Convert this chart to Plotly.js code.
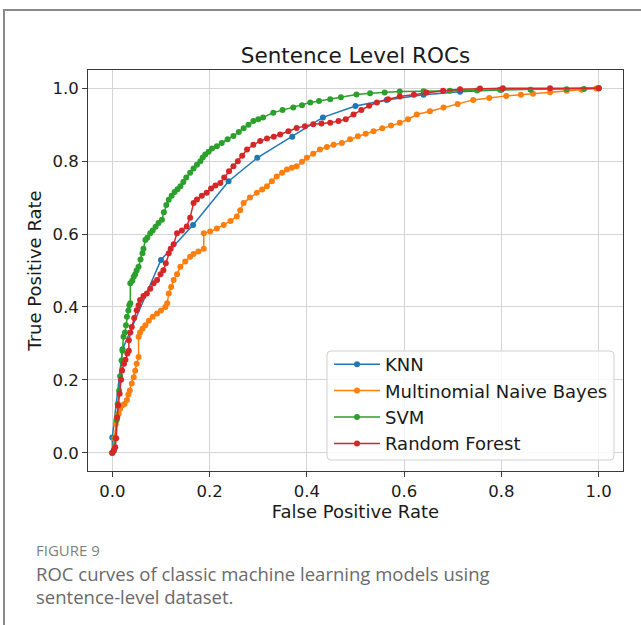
<!DOCTYPE html>
<html>
<head>
<meta charset="utf-8">
<script src="https://cdn.plot.ly/plotly-3.0.1.min.js"></script>
<style>
  html, body { margin: 0; padding: 0; background: #ffffff; }
  #wrap { position: relative; width: 641px; height: 625px; overflow: hidden; }
  #chart { position: absolute; left: 0; top: 0; width: 641px; height: 625px; }
  #card { position: absolute; left: 3px; top: 9px; width: 700px; height: 700px;
          border-top: 2px solid #8a8a8a; border-left: 2px solid #8a8a8a; pointer-events: none; }
</style>
</head>
<body>
<div id="wrap">
  <div id="chart"></div>
  <div id="card"></div>
</div>
<script>
// ROC curve points (false positive rate / true positive rate) per model
const knnFpr = [0.0, 0.0, 0.021, 0.100, 0.166, 0.239, 0.298, 0.370, 0.433, 0.500, 0.564, 0.640, 0.715, 0.800, 1.0];
const knnTpr = [0.0, 0.042, 0.284, 0.529, 0.625, 0.745, 0.809, 0.867, 0.920, 0.951, 0.968, 0.982, 0.990, 0.996, 1.0];

const mnbFpr = [0, 0.004, 0.007, 0.010, 0.013, 0.016, 0.020, 0.025, 0.030, 0.033, 0.036, 0.040, 0.044, 0.047, 0.050, 0.054, 0.054, 0.057, 0.062, 0.068, 0.075, 0.083, 0.092, 0.100, 0.109, 0.113, 0.116, 0.121, 0.126, 0.133, 0.140, 0.150, 0.160, 0.167, 0.177, 0.188, 0.188, 0.201, 0.215, 0.229, 0.243, 0.256, 0.263, 0.270, 0.283, 0.297, 0.308, 0.318, 0.328, 0.338, 0.349, 0.359, 0.369, 0.379, 0.390, 0.400, 0.413, 0.427, 0.441, 0.455, 0.472, 0.489, 0.505, 0.521, 0.537, 0.555, 0.573, 0.591, 0.608, 0.626, 0.653, 0.681, 0.71, 0.742, 0.775, 0.81, 0.84, 0.865, 0.90, 0.934, 0.965, 0.995, 1.0];
const mnbTpr = [0, 0.04, 0.079, 0.1, 0.107, 0.12, 0.13, 0.134, 0.145, 0.16, 0.171, 0.19, 0.207, 0.225, 0.244, 0.263, 0.318, 0.33, 0.34, 0.35, 0.362, 0.373, 0.382, 0.39, 0.40, 0.41, 0.437, 0.455, 0.474, 0.49, 0.51, 0.525, 0.538, 0.545, 0.552, 0.56, 0.602, 0.607, 0.615, 0.625, 0.636, 0.648, 0.665, 0.685, 0.70, 0.713, 0.722, 0.731, 0.745, 0.758, 0.768, 0.777, 0.782, 0.786, 0.798, 0.809, 0.82, 0.832, 0.839, 0.845, 0.85, 0.86, 0.868, 0.875, 0.882, 0.89, 0.898, 0.905, 0.915, 0.928, 0.937, 0.947, 0.957, 0.968, 0.973, 0.979, 0.982, 0.985, 0.989, 0.993, 0.996, 0.999, 1.0];

const svmFpr = [0, 0.003, 0.006, 0.009, 0.011, 0.014, 0.016, 0.019, 0.021, 0.023, 0.026, 0.028, 0.030, 0.033, 0.035, 0.037, 0.037, 0.041, 0.044, 0.047, 0.050, 0.054, 0.058, 0.062, 0.064, 0.068, 0.072, 0.078, 0.083, 0.089, 0.095, 0.102, 0.106, 0.111, 0.116, 0.122, 0.128, 0.134, 0.140, 0.146, 0.152, 0.160, 0.167, 0.174, 0.181, 0.186, 0.191, 0.198, 0.205, 0.215, 0.225, 0.237, 0.249, 0.260, 0.270, 0.280, 0.290, 0.300, 0.31, 0.331, 0.35, 0.372, 0.39, 0.407, 0.425, 0.448, 0.47, 0.502, 0.53, 0.56, 0.591, 0.64, 0.694, 0.75, 0.797, 0.86, 0.934, 0.97, 1.0];
const svmTpr = [0, 0.006, 0.04, 0.09, 0.134, 0.17, 0.21, 0.253, 0.28, 0.318, 0.33, 0.35, 0.373, 0.39, 0.405, 0.41, 0.465, 0.472, 0.483, 0.49, 0.50, 0.51, 0.53, 0.547, 0.56, 0.584, 0.59, 0.602, 0.61, 0.62, 0.63, 0.639, 0.66, 0.68, 0.694, 0.705, 0.715, 0.723, 0.731, 0.743, 0.755, 0.768, 0.78, 0.79, 0.80, 0.81, 0.818, 0.826, 0.835, 0.841, 0.85, 0.86, 0.869, 0.88, 0.89, 0.90, 0.91, 0.915, 0.92, 0.933, 0.94, 0.947, 0.953, 0.961, 0.965, 0.97, 0.975, 0.983, 0.986, 0.988, 0.991, 0.992, 0.993, 0.994, 0.996, 0.996, 0.997, 0.998, 1.0];

const rfFpr = [0, 0.003, 0.006, 0.008, 0.010, 0.012, 0.015, 0.018, 0.020, 0.024, 0.027, 0.031, 0.034, 0.034, 0.037, 0.040, 0.045, 0.050, 0.054, 0.057, 0.064, 0.071, 0.078, 0.085, 0.092, 0.099, 0.105, 0.110, 0.116, 0.120, 0.126, 0.133, 0.143, 0.153, 0.160, 0.167, 0.174, 0.184, 0.194, 0.203, 0.212, 0.222, 0.230, 0.240, 0.249, 0.258, 0.267, 0.277, 0.290, 0.304, 0.318, 0.332, 0.345, 0.362, 0.379, 0.396, 0.413, 0.430, 0.448, 0.465, 0.480, 0.496, 0.512, 0.528, 0.544, 0.567, 0.591, 0.62, 0.646, 0.68, 0.715, 0.756, 0.803, 0.9, 1.0];
const rfTpr = [0, 0.006, 0.015, 0.04, 0.097, 0.13, 0.162, 0.2, 0.226, 0.244, 0.255, 0.272, 0.28, 0.309, 0.33, 0.345, 0.37, 0.391, 0.405, 0.419, 0.43, 0.437, 0.45, 0.465, 0.474, 0.49, 0.501, 0.52, 0.547, 0.56, 0.572, 0.602, 0.61, 0.621, 0.645, 0.685, 0.695, 0.705, 0.713, 0.725, 0.733, 0.740, 0.755, 0.772, 0.786, 0.80, 0.815, 0.832, 0.845, 0.855, 0.862, 0.867, 0.873, 0.882, 0.891, 0.896, 0.901, 0.903, 0.905, 0.91, 0.915, 0.928, 0.94, 0.952, 0.961, 0.97, 0.977, 0.982, 0.988, 0.993, 0.997, 0.999, 1.0, 1.0, 1.0];

const modelNames = ["KNN", "Multinomial Naive Bayes", "SVM", "Random Forest"];
const modelColors = ["#1f77b4", "#ff7f0e", "#2ca02c", "#d62728"];
const tickVals = [0.0, 0.2, 0.4, 0.6, 0.8, 1.0];
const tickText = ["0.0", "0.2", "0.4", "0.6", "0.8", "1.0"];

const series = [[knnFpr, knnTpr], [mnbFpr, mnbTpr], [svmFpr, svmTpr], [rfFpr, rfTpr]];

const traces = series.map(function (s, i) {
  return {
    type: "scatter",
    mode: "lines+markers",
    name: modelNames[i],
    x: s[0],
    y: s[1],
    line: { color: modelColors[i], width: 1.5 },
    marker: { color: modelColors[i], size: 6 },
    legendgroup: "g" + i
  };
});

const baseFont = "DejaVu Sans, sans-serif";
const textColor = "#1a1a1a";
const axisCommon = {
  range: [-0.05, 1.05],
  tickvals: tickVals,
  ticktext: tickText,
  showgrid: true,
  gridcolor: "#d4d4d4",
  gridwidth: 1,
  zeroline: false,
  showline: true,
  mirror: true,
  linecolor: "#3a3a3a",
  linewidth: 1,
  ticks: "outside",
  ticklen: 5,
  tickwidth: 1,
  tickcolor: "#3a3a3a",
  tickfont: { family: baseFont, size: 16.5, color: textColor },
  fixedrange: true
};

// plot area in pixels: left 88, top 70, width 535, height 401
const PL = 88, PT = 70, PW = 535, PH = 401;
const px2x = function (px) { return (px - PL) / PW; };
const py2y = function (py) { return (PT + PH - py) / PH; };

// rounded legend frame
function roundedBox(left, top, right, bottom, r) {
  const x0 = px2x(left), x1 = px2x(right), y0 = py2y(bottom), y1 = py2y(top);
  const rx = r / PW, ry = r / PH;
  return "M" + (x0 + rx) + "," + y1 +
    " L" + (x1 - rx) + "," + y1 + " Q" + x1 + "," + y1 + " " + x1 + "," + (y1 - ry) +
    " L" + x1 + "," + (y0 + ry) + " Q" + x1 + "," + y0 + " " + (x1 - rx) + "," + y0 +
    " L" + (x0 + rx) + "," + y0 + " Q" + x0 + "," + y0 + " " + x0 + "," + (y0 + ry) +
    " L" + x0 + "," + (y1 - ry) + " Q" + x0 + "," + y1 + " " + (x0 + rx) + "," + y1 + " Z";
}

const captionX = px2x(34);

const layout = {
  width: 641,
  height: 625,
  margin: { l: PL, r: 641 - PL - PW, t: PT, b: 625 - PT - PH },
  paper_bgcolor: "#ffffff",
  plot_bgcolor: "#ffffff",
  font: { family: baseFont, color: textColor },
  title: {
    text: "Sentence Level ROCs",
    font: { family: baseFont, size: 21.5, color: textColor },
    xref: "paper", x: 0.5, xanchor: "center",
    yref: "container", y: 1 - 55 / 625, yanchor: "middle"
  },
  xaxis: Object.assign({}, axisCommon, {
    title: { text: "False Positive Rate", font: { family: baseFont, size: 18, color: textColor }, standoff: 2 }
  }),
  yaxis: Object.assign({}, axisCommon, {
    title: { text: "True Positive Rate", font: { family: baseFont, size: 18, color: textColor }, standoff: 6 }
  }),
  showlegend: true,
  legend: {
    x: px2x(613), xanchor: "right",
    y: py2y(462), yanchor: "bottom",
    bgcolor: "rgba(0,0,0,0)",
    borderwidth: 0,
    itemwidth: 46,
    font: { family: baseFont, size: 18, color: textColor },
    traceorder: "grouped",
    tracegroupgap: 0
  },
  shapes: [
    { type: "path", xref: "paper", yref: "paper", layer: "above",
      path: roundedBox(327, 351, 614, 460, 4),
      fillcolor: "rgba(255,255,255,0.8)",
      line: { color: "#d0d0d0", width: 1 } }
  ],
  annotations: [
    { text: "FIGURE 9", xref: "paper", yref: "paper", x: captionX, y: py2y(550),
      xanchor: "left", yanchor: "middle", showarrow: false,
      font: { family: "Open Sans, sans-serif", size: 15, color: "#7f7f7f" } },
    { text: "ROC curves of classic machine learning models using", xref: "paper", yref: "paper",
      x: captionX, y: py2y(573), xanchor: "left", yanchor: "middle", showarrow: false,
      font: { family: "Open Sans, sans-serif", size: 18.5, color: "#6a6a6a" } },
    { text: "sentence-level dataset.", xref: "paper", yref: "paper",
      x: captionX, y: py2y(596), xanchor: "left", yanchor: "middle", showarrow: false,
      font: { family: "Open Sans, sans-serif", size: 18.5, color: "#6a6a6a" } }
  ]
};

Plotly.newPlot("chart", traces, layout, { displayModeBar: false, staticPlot: true });
</script>
</body>
</html>
